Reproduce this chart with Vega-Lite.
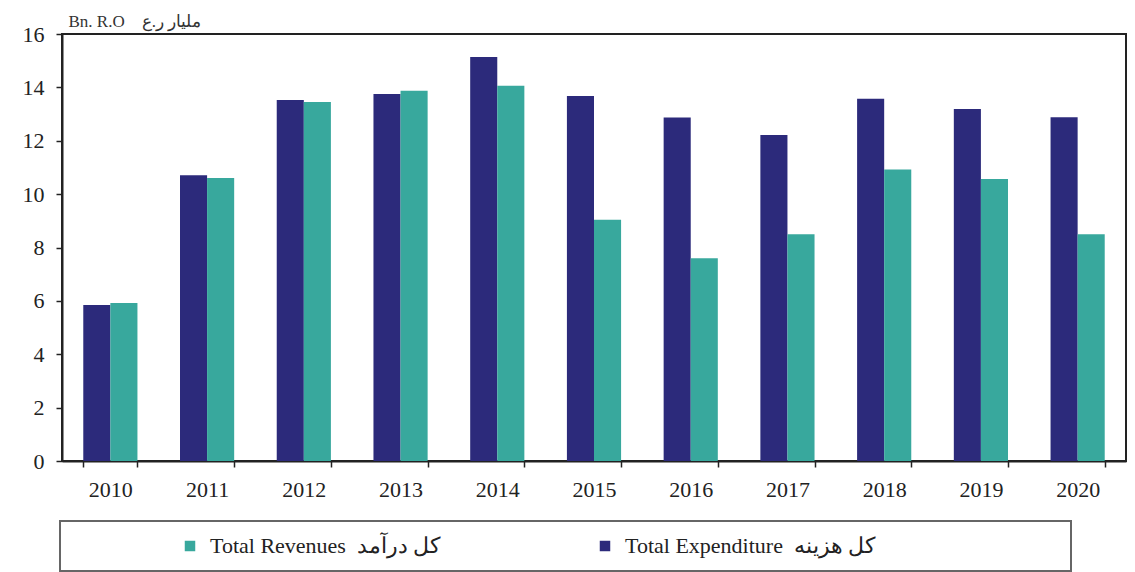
{
  "$schema": "https://vega.github.io/schema/vega-lite/v6.json",
  "autosize": "none",
  "width": 1064,
  "height": 427,
  "padding": {"left": 62, "top": 34, "right": 9, "bottom": 111},
  "background": "white",
  "data": {
    "values": [
      {"year": "2010", "series": "Total Expenditure", "value": 5.85},
      {"year": "2010", "series": "Total Revenues", "value": 5.92},
      {"year": "2011", "series": "Total Expenditure", "value": 10.71},
      {"year": "2011", "series": "Total Revenues", "value": 10.6},
      {"year": "2012", "series": "Total Expenditure", "value": 13.53},
      {"year": "2012", "series": "Total Revenues", "value": 13.45},
      {"year": "2013", "series": "Total Expenditure", "value": 13.75},
      {"year": "2013", "series": "Total Revenues", "value": 13.87},
      {"year": "2014", "series": "Total Expenditure", "value": 15.14},
      {"year": "2014", "series": "Total Revenues", "value": 14.06},
      {"year": "2015", "series": "Total Expenditure", "value": 13.68},
      {"year": "2015", "series": "Total Revenues", "value": 9.04},
      {"year": "2016", "series": "Total Expenditure", "value": 12.87},
      {"year": "2016", "series": "Total Revenues", "value": 7.6},
      {"year": "2017", "series": "Total Expenditure", "value": 12.22},
      {"year": "2017", "series": "Total Revenues", "value": 8.5},
      {"year": "2018", "series": "Total Expenditure", "value": 13.57},
      {"year": "2018", "series": "Total Revenues", "value": 10.92},
      {"year": "2019", "series": "Total Expenditure", "value": 13.19},
      {"year": "2019", "series": "Total Revenues", "value": 10.57},
      {"year": "2020", "series": "Total Expenditure", "value": 12.88},
      {"year": "2020", "series": "Total Revenues", "value": 8.5}
    ]
  },
  "mark": {"type": "bar"},
  "encoding": {
    "x": {
      "field": "year",
      "type": "nominal",
      "scale": {"paddingInner": 0.44, "paddingOuter": 0.22},
      "axis": {
        "title": null,
        "labelAngle": 0,
        "labelFont": "Liberation Serif",
        "labelFontSize": 22,
        "labelColor": "#222",
        "labelPadding": 12,
        "tickBand": "extent",
        "tickSize": 6,
        "tickColor": "#222",
        "tickWidth": 1.5,
        "domainColor": "#222",
        "domainWidth": 2
      }
    },
    "xOffset": {"field": "series", "type": "nominal", "sort": ["Total Expenditure", "Total Revenues"]},
    "y": {
      "field": "value",
      "type": "quantitative",
      "scale": {"domain": [0, 16], "nice": false},
      "axis": {
        "values": [0, 2, 4, 6, 8, 10, 12, 14, 16],
        "grid": false,
        "title": "Bn. R.O\u00a0\u00a0\u00a0\u00a0مليار ر.ع",
        "titleAngle": 0,
        "titleAlign": "left",
        "titleBaseline": "alphabetic",
        "titleX": 6,
        "titleY": -8,
        "titleFont": "Liberation Serif",
        "titleFontSize": 17,
        "titleFontWeight": "normal",
        "titleColor": "#333",
        "labelFont": "Liberation Serif",
        "labelFontSize": 22,
        "labelColor": "#222",
        "labelPadding": 12,
        "tickSize": 6,
        "tickColor": "#222",
        "tickWidth": 1.5,
        "domainColor": "#222",
        "domainWidth": 2
      }
    },
    "color": {
      "field": "series",
      "type": "nominal",
      "scale": {"domain": ["Total Revenues", "Total Expenditure"], "range": ["#38a89d", "#2c2a7b"]},
      "legend": {
        "title": null,
        "orient": "none",
        "direction": "horizontal",
        "legendX": -2,
        "legendY": 487,
        "padding": 14,
        "strokeColor": "#666",
        "symbolType": "square",
        "symbolSize": 110,
        "symbolStrokeWidth": 0,
        "symbolOffset": 105,
        "labelFont": "Liberation Serif",
        "labelFontSize": 22,
        "labelColor": "#222",
        "labelOffset": 9,
        "labelLimit": 600,
        "columnPadding": 48,
        "labelExpr": "datum.label == 'Total Revenues' ? 'Total Revenues\u00a0\u00a0كل درآمد' : 'Total Expenditure\u00a0\u00a0كل هزينه\u00a0\u00a0\u00a0\u00a0\u00a0\u00a0\u00a0\u00a0\u00a0\u00a0\u00a0\u00a0\u00a0\u00a0\u00a0\u00a0\u00a0\u00a0\u00a0\u00a0\u00a0\u00a0\u00a0\u00a0\u00a0\u00a0\u00a0\u00a0\u00a0\u00a0\u00a0\u00a0\u00a0\u200b'"
      }
    }
  },
  "config": {
    "view": {"stroke": "#222", "strokeWidth": 2},
    "legend": {"strokeWidth": 2}
  }
}
